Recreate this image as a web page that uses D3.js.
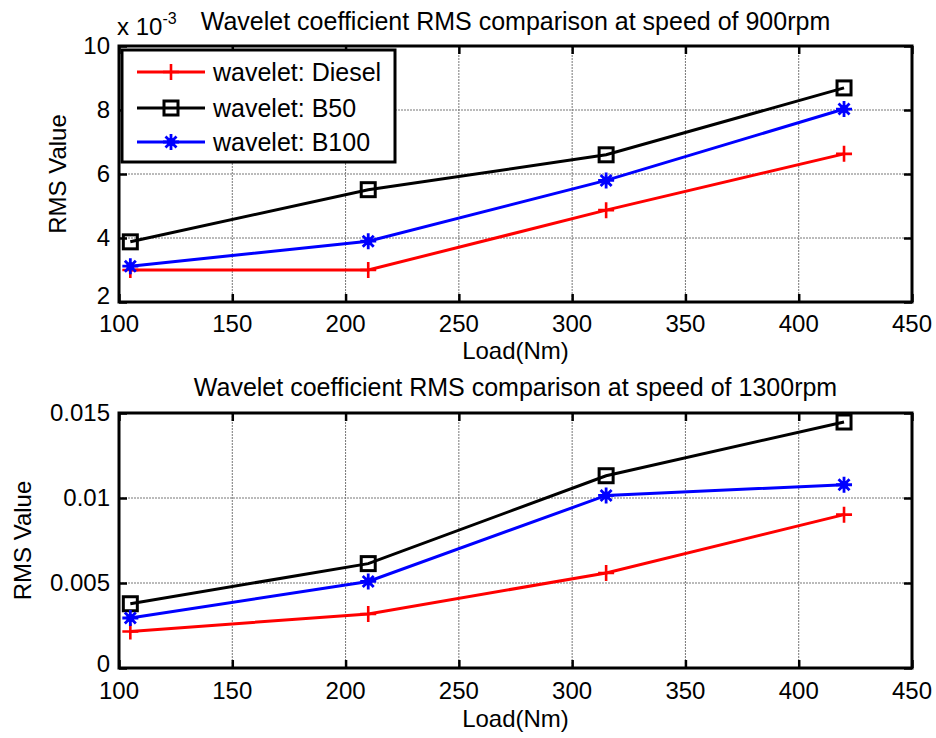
<!DOCTYPE html>
<html>
<head>
<meta charset="utf-8">
<script src="https://cdn.jsdelivr.net/npm/d3@7"></script>
<style>
  html, body { margin: 0; padding: 0; background: #fff; }
  svg { display: block; font-family: "Liberation Sans", Arial, Helvetica, sans-serif; }
</style>
</head>
<body>
<svg id="chart" width="936" height="738"></svg>
<script>
// Load points (Nm) shared by both speed tests
const loads = [105, 210, 315, 420];
const xTicks = [100, 150, 200, 250, 300, 350, 400, 450];

// 900 rpm wavelet coefficient RMS values
const diesel900 = [0.00300, 0.00300, 0.00487, 0.00663];
const b50_900   = [0.00388, 0.00551, 0.00660, 0.00869];
const b100_900  = [0.00312, 0.00390, 0.00580, 0.00803];
const yTicks900 = [0.002, 0.004, 0.006, 0.008, 0.010];

// 1300 rpm wavelet coefficient RMS values
const diesel1300 = [0.00215, 0.00318, 0.00559, 0.00902];
const b50_1300   = [0.00378, 0.00614, 0.01131, 0.01447];
const b100_1300  = [0.00294, 0.00509, 0.01015, 0.01078];
const yTicks1300 = [0, 0.005, 0.01, 0.015];

const seriesNames = ["wavelet: Diesel", "wavelet: B50", "wavelet: B100"];
const seriesColors = ["#ff0000", "#000000", "#0000ff"];
const seriesMarkers = ["plus", "square", "star"];

const svg = d3.select("#chart");
const FONT = 24;

function drawMarker(g, type, color) {
  if (type === "plus") {
    g.append("path").attr("d", "M-8,0H8M0,-8V8")
      .attr("stroke", color).attr("stroke-width", 2.6).attr("fill", "none");
  } else if (type === "square") {
    g.append("rect").attr("x", -7).attr("y", -7).attr("width", 14).attr("height", 14)
      .attr("stroke", color).attr("stroke-width", 3).attr("fill", "none");
  } else {
    g.append("path").attr("d", "M-8,0H8M0,-8V8M-5.5,-5.5L5.5,5.5M-5.5,5.5L5.5,-5.5")
      .attr("stroke", color).attr("stroke-width", 2.8).attr("fill", "none");
    g.append("circle").attr("r", 4).attr("fill", color);
  }
}

function panel(opts) {
  const { x0, x1, y0, y1, yDomain, yTicks, yFmt, series, title, titleY, yLabelX,
          tickLabelY, xLabelY, lowLabelLift } = opts;
  const x = d3.scaleLinear().domain([100, 450]).range([x0, x1]);
  const y = d3.scaleLinear().domain(yDomain).range([y1, y0]);
  const g = svg.append("g");

  // grid
  const grid = g.append("g").attr("stroke", "#777").attr("stroke-width", 1)
    .attr("stroke-dasharray", "2,1");
  xTicks.slice(1, -1).forEach(t => grid.append("line")
    .attr("x1", x(t)).attr("x2", x(t)).attr("y1", y0).attr("y2", y1));
  yTicks.slice(1, -1).forEach(t => grid.append("line")
    .attr("x1", x0).attr("x2", x1).attr("y1", y(t)).attr("y2", y(t)));

  // inward ticks on all four sides via d3 axes
  const tickLen = 8;
  const axB = g.append("g").attr("transform", `translate(0,${y1})`)
    .call(d3.axisTop(x).tickValues(xTicks).tickSize(tickLen).tickFormat(""));
  const axT = g.append("g").attr("transform", `translate(0,${y0})`)
    .call(d3.axisBottom(x).tickValues(xTicks).tickSize(tickLen).tickFormat(""));
  const axL = g.append("g").attr("transform", `translate(${x0},0)`)
    .call(d3.axisRight(y).tickValues(yTicks).tickSize(tickLen).tickFormat(""));
  const axR = g.append("g").attr("transform", `translate(${x1},0)`)
    .call(d3.axisLeft(y).tickValues(yTicks).tickSize(tickLen).tickFormat(""));
  [axB, axT, axL, axR].forEach(a => {
    a.select(".domain").remove();
    a.selectAll("line").attr("stroke", "#000").attr("stroke-width", 2.5);
  });

  // tick labels (the lowest y label sits a little higher, clear of the x labels)
  g.append("g").selectAll("text").data(xTicks).join("text")
    .attr("x", d => x(d)).attr("y", tickLabelY)
    .attr("text-anchor", "middle").attr("font-size", FONT).text(d => d);
  g.append("g").selectAll("text").data(yTicks).join("text")
    .attr("x", x0 - 9).attr("y", (d, i) => y(d) - (i === 0 ? lowLabelLift : 0)).attr("dy", "0.35em")
    .attr("text-anchor", "end").attr("font-size", FONT).text(yFmt);

  // series lines and markers
  const line = d3.line().x((d, i) => x(loads[i])).y(d => y(d));
  series.forEach((vals, si) => {
    g.append("path").datum(vals).attr("d", line)
      .attr("fill", "none").attr("stroke", seriesColors[si]).attr("stroke-width", 3);
    vals.forEach((v, i) => {
      const m = g.append("g").attr("transform", `translate(${x(loads[i])},${y(v)})`);
      drawMarker(m, seriesMarkers[si], seriesColors[si]);
    });
  });

  // box
  g.append("rect").attr("x", x0).attr("y", y0).attr("width", x1 - x0).attr("height", y1 - y0)
    .attr("fill", "none").attr("stroke", "#000").attr("stroke-width", 3);

  // labels
  g.append("text").attr("x", (x0 + x1) / 2).attr("y", titleY)
    .attr("text-anchor", "middle").attr("font-size", 25).text(title);
  g.append("text").attr("x", (x0 + x1) / 2).attr("y", xLabelY)
    .attr("text-anchor", "middle").attr("font-size", FONT).text("Load(Nm)");
  g.append("text").attr("transform", `translate(${yLabelX},${(y0 + y1) / 2}) rotate(-90)`)
    .attr("text-anchor", "middle").attr("font-size", FONT).text("RMS Value");
  return { x, y, g };
}

const panel900 = panel({
  x0: 119, x1: 912, y0: 46, y1: 302,
  yDomain: [0.002, 0.010], yTicks: yTicks900, yFmt: d => Math.round(d * 1000),
  series: [diesel900, b50_900, b100_900],
  title: "Wavelet coefficient RMS comparison at speed of 900rpm",
  titleY: 30, yLabelX: 66, tickLabelY: 332, xLabelY: 359, lowLabelLift: 6
});

// exponent label for the 900 rpm axis
const expo = svg.append("text").attr("x", 117).attr("y", 35).attr("font-size", FONT);
expo.append("tspan").text("x 10");
expo.append("tspan").attr("dy", -11).attr("font-size", 16).text("-3");

const panel1300 = panel({
  x0: 119, x1: 912, y0: 413, y1: 668,
  yDomain: [0, 0.015], yTicks: yTicks1300, yFmt: d => d === 0 ? "0" : String(d),
  series: [diesel1300, b50_1300, b100_1300],
  title: "Wavelet coefficient RMS comparison at speed of 1300rpm",
  titleY: 396, yLabelX: 31, tickLabelY: 699, xLabelY: 727, lowLabelLift: 4
});

// legend in the 900 rpm panel
const lg = svg.append("g");
lg.append("rect").attr("x", 122).attr("y", 50).attr("width", 273).attr("height", 112)
  .attr("fill", "#fff").attr("stroke", "#000").attr("stroke-width", 3);
const rowY = [72, 108, 142];
seriesNames.forEach((name, i) => {
  lg.append("line").attr("x1", 137).attr("x2", 205).attr("y1", rowY[i]).attr("y2", rowY[i])
    .attr("stroke", seriesColors[i]).attr("stroke-width", 3);
  const m = lg.append("g").attr("transform", `translate(171,${rowY[i]})`);
  drawMarker(m, seriesMarkers[i], seriesColors[i]);
  lg.append("text").attr("x", 213).attr("y", rowY[i]).attr("dy", "0.35em")
    .attr("font-size", 25).text(name);
});
</script>
</body>
</html>
